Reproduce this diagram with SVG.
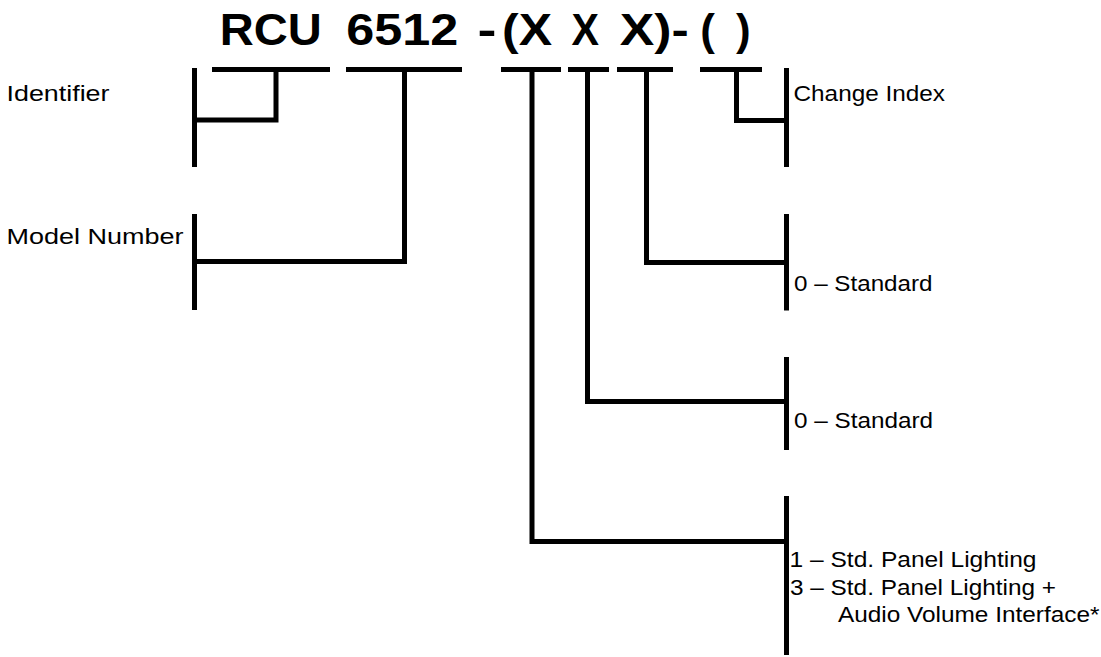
<svg xmlns="http://www.w3.org/2000/svg" width="1101" height="657" viewBox="0 0 1101 657">
<style>
.ln{stroke:#000;stroke-width:5;fill:none;stroke-linecap:butt;stroke-linejoin:miter}
.t{font-family:"Liberation Sans",Arial,sans-serif;font-size:22.5px;fill:#000}
.h{font-family:"Liberation Sans",Arial,sans-serif;font-size:44px;font-weight:bold;fill:#000}
</style>
<rect width="1101" height="657" fill="#fff"/>
<g id="title">
<text class="h" x="219.8" y="45" textLength="102" lengthAdjust="spacingAndGlyphs">RCU</text>
<text class="h" x="346.2" y="45" textLength="112" lengthAdjust="spacingAndGlyphs">6512</text>
<text class="h" x="477.5" y="45" textLength="19" lengthAdjust="spacingAndGlyphs">-</text>
<text class="h" x="502" y="45" textLength="50" lengthAdjust="spacingAndGlyphs">(X</text>
<text class="h" x="571.4" y="45" textLength="27.5" lengthAdjust="spacingAndGlyphs">X</text>
<text class="h" x="619.7" y="45" textLength="69" lengthAdjust="spacingAndGlyphs">X)-</text>
<text class="h" x="707.5" y="45" text-anchor="middle">(</text>
<text class="h" x="743.3" y="45" text-anchor="middle">)</text>
</g>
<g id="seg-rcu"><line class="ln" x1="212" y1="69.5" x2="330" y2="69.5"/></g>
<g id="seg-6512"><line class="ln" x1="346" y1="69.5" x2="462" y2="69.5"/></g>
<g id="seg-x1"><line class="ln" x1="501" y1="69.5" x2="561" y2="69.5"/></g>
<g id="seg-x2"><line class="ln" x1="568" y1="69.5" x2="609" y2="69.5"/></g>
<g id="seg-x3"><line class="ln" x1="617" y1="69.5" x2="673" y2="69.5"/></g>
<g id="seg-change"><line class="ln" x1="700" y1="69.5" x2="762" y2="69.5"/></g>
<g id="identifier">
<line class="ln" x1="194.5" y1="68" x2="194.5" y2="167"/>
<text class="t" x="6.5" y="100.5" textLength="103" lengthAdjust="spacingAndGlyphs">Identifier</text>
</g>
<g id="model-number">
<line class="ln" x1="194.5" y1="214" x2="194.5" y2="310"/>
<text class="t" x="6.5" y="243.5" textLength="177" lengthAdjust="spacingAndGlyphs">Model Number</text>
</g>
<g id="change-index">
<line class="ln" x1="786.5" y1="68" x2="786.5" y2="167"/>
<text class="t" x="793.5" y="100.5" textLength="151.5" lengthAdjust="spacingAndGlyphs">Change Index</text>
</g>
<g id="option-3">
<line class="ln" x1="786.5" y1="214" x2="786.5" y2="310.5"/>
<text class="t" x="794" y="290.5" textLength="138.5" lengthAdjust="spacingAndGlyphs">0 – Standard</text>
</g>
<g id="option-2">
<line class="ln" x1="786.5" y1="357" x2="786.5" y2="450"/>
<text class="t" x="794" y="427.5" textLength="139" lengthAdjust="spacingAndGlyphs">0 – Standard</text>
</g>
<g id="option-1">
<line class="ln" x1="786.5" y1="496" x2="786.5" y2="655"/>
<text class="t" x="789.5" y="567" textLength="247" lengthAdjust="spacingAndGlyphs">1 – Std. Panel Lighting</text>
<text class="t" x="790" y="594.5" textLength="266" lengthAdjust="spacingAndGlyphs">3 – Std. Panel Lighting +</text>
<text class="t" x="838" y="622" textLength="261.5" lengthAdjust="spacingAndGlyphs">Audio Volume Interface*</text>
</g>
<g id="connectors">
<polyline class="ln" points="276,69.5 276,120 194.5,120"/>
<polyline class="ln" points="404.5,69.5 404.5,261.5 194.5,261.5"/>
<polyline class="ln" points="532,69.5 532,541.5 786.5,541.5"/>
<polyline class="ln" points="587.5,69.5 587.5,401.5 786.5,401.5"/>
<polyline class="ln" points="646.5,69.5 646.5,262.5 786.5,262.5"/>
<polyline class="ln" points="736.5,69.5 736.5,120.5 786.5,120.5"/>
</g>
</svg>
